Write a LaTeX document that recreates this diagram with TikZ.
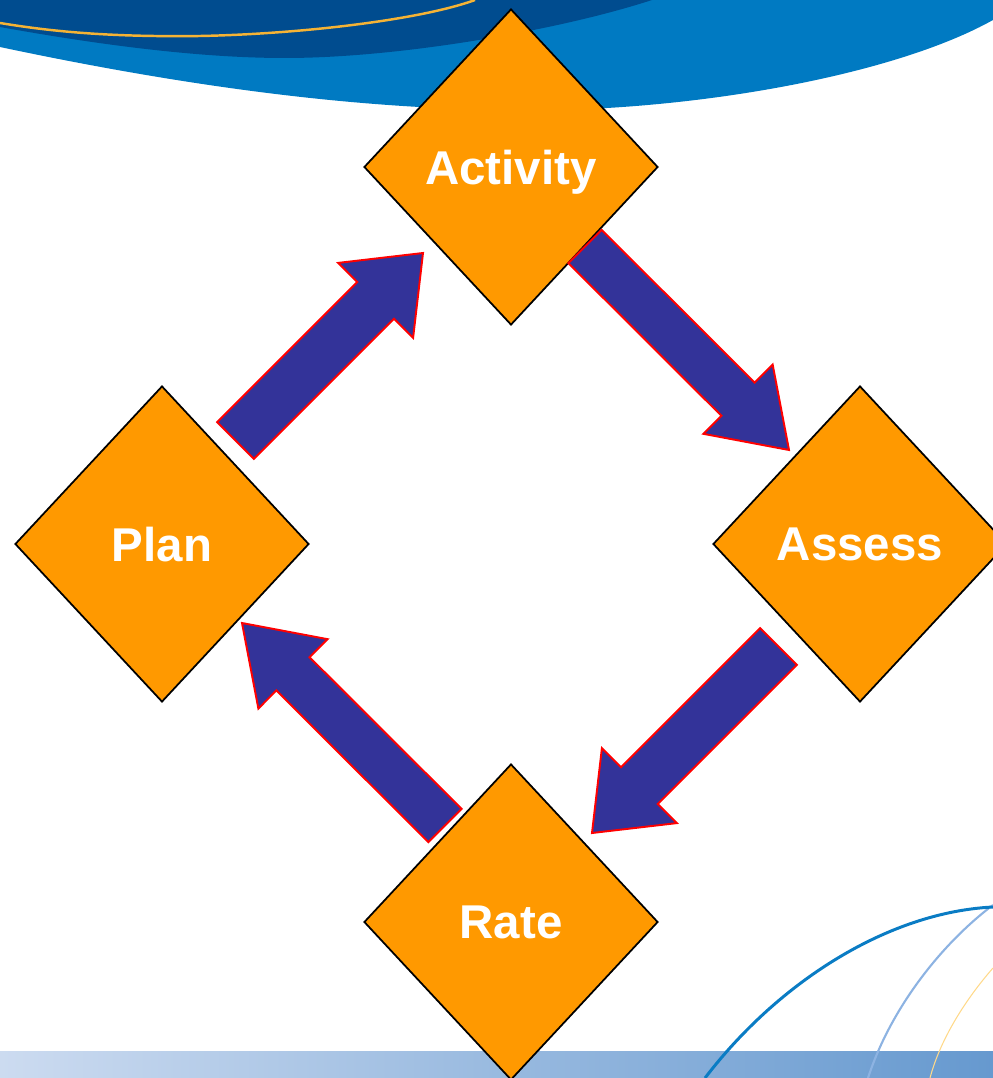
\documentclass[tikz,border=0pt]{standalone}
\usepackage{fontspec}
\setmainfont{Liberation Sans}
\usetikzlibrary{shapes.geometric,calc}

\definecolor{bandDark}{HTML}{004C8F}
\definecolor{bandLight}{HTML}{007AC2}
\definecolor{bandGold}{HTML}{F5B335}
\definecolor{barLeft}{HTML}{CCDBF0}
\definecolor{barRight}{HTML}{6699CF}
\definecolor{swirlBlue}{HTML}{0A7CC4}
\definecolor{swirlPale}{HTML}{8DB3E2}
\definecolor{swirlGold}{HTML}{FFD98A}
\definecolor{stageOrange}{HTML}{FF9900}
\definecolor{arrowBlue}{HTML}{333399}

% block arrow: tail, tip, half shaft, half head, head length
\newcommand{\cyclearrow}[5]{%
	\filldraw[fill=arrowBlue, draw=red, line width=1.1pt, line join=miter]
		($(#1)!#3!90:(#2)$) -- ($(#2)!#5!(#1)!#3!90:(#2)$) -- ($(#2)!#5!(#1)!#4!90:(#2)$) -- (#2)
		-- ($(#2)!#5!(#1)!#4!-90:(#2)$) -- ($(#2)!#5!(#1)!#3!-90:(#2)$) -- ($(#1)!#3!-90:(#2)$) -- cycle;
}

\begin{document}
\begin{tikzpicture}[x=0.02cm, y=-0.02cm,
	stage/.style={diamond, draw=black, line width=1pt, fill=stageOrange, minimum width=5.88cm,
		minimum height=6.32cm, inner sep=0pt, text=white, text depth=0pt,
		font=\fontsize{27}{30}\selectfont\bfseries}]
	\useasboundingbox (0,0) rectangle (993,1078);
	\clip (0,0) rectangle (993,1078);

	% top band
	\fill[bandLight] (0,0) -- (0,47) .. controls (250,100) and (420,112) .. (560,110)
		.. controls (720,106) and (900,72) .. (993,20) -- (993,0) -- cycle;
	\fill[bandDark] (0,0) -- (0,27) .. controls (100,45) and (200,58) .. (285,58)
		.. controls (400,58) and (560,30) .. (652,0) -- cycle;
	\draw[bandGold, line width=1.4pt] (0,23) .. controls (60,33) and (120,37) .. (200,36)
		.. controls (300,34) and (420,20) .. (475,0);

	% bottom bar and swirls
	\shade[left color=barLeft, right color=barRight] (0,1051) rectangle (993,1078);
	\draw[swirlGold, line width=0.6pt] (993,968) .. controls (965,1000) and (940,1040) .. (930,1078);
	\draw[swirlPale, line width=1.2pt] (993,905) .. controls (940,945) and (890,1010) .. (868,1078);
	\draw[swirlBlue, line width=1.7pt] (705,1078) .. controls (780,980) and (890,912) .. (993,907);

	% stages
	\node[stage] (activity) at (511,167) {Activity};
	\node[stage] (plan) at (162,544) {Plan};
	\node[stage] (assess) at (860,544) {Assess};
	\node[stage] (rate) at (511,922) {Rate};

	% arrow ends
	\coordinate (p2a-tail) at (235.5,440.5);
	\coordinate (p2a-tip) at (423,253);
	\coordinate (a2s-tail) at (585,246.5);
	\coordinate (a2s-tip) at (789,450);
	\coordinate (s2r-tail) at (778.5,646.5);
	\coordinate (s2r-tip) at (592,833);
	\coordinate (r2p-tail) at (445,825.5);
	\coordinate (r2p-tip) at (242,623);

	\cyclearrow{p2a-tail}{p2a-tip}{0.52cm}{1.06cm}{1.34cm}
	\cyclearrow{a2s-tail}{a2s-tip}{0.47cm}{0.98cm}{1.44cm}
	\cyclearrow{s2r-tail}{s2r-tip}{0.52cm}{1.06cm}{1.34cm}
	\cyclearrow{r2p-tail}{r2p-tip}{0.47cm}{0.98cm}{1.44cm}
\end{tikzpicture}
\end{document}
